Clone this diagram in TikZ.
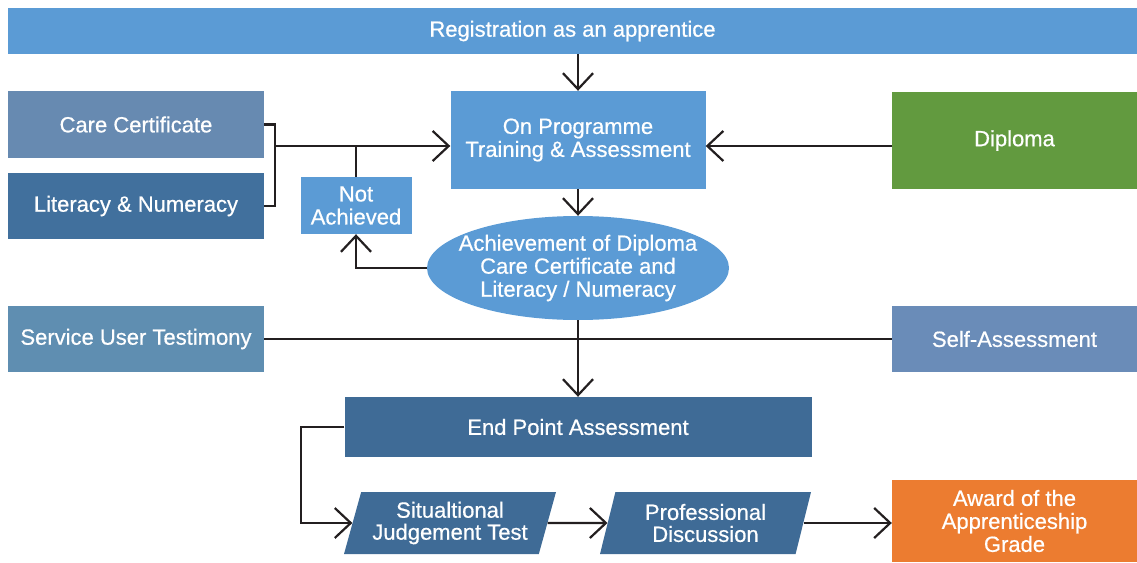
\documentclass[tikz,border=0pt]{standalone}
\usepackage{fontspec}
\setmainfont{Liberation Sans}
\newfontfamily\medfont{Liberation Sans}[FakeBold=0.6]
\usetikzlibrary{arrows.meta,shapes.geometric}
\definecolor{lblue}{HTML}{5B9BD5}
\definecolor{ccblue}{HTML}{678AB1}
\definecolor{litblue}{HTML}{41709D}
\definecolor{sutblue}{HTML}{5F8EB1}
\definecolor{sablue}{HTML}{6A8CB8}
\definecolor{dblue}{HTML}{3F6B96}
\definecolor{dgreen}{HTML}{629A3F}
\definecolor{orng}{HTML}{EC7C30}
\definecolor{linec}{HTML}{231F20}
\tikzset{
  box/.style={rectangle, inner sep=0pt, text=white, align=center, font=\medfont\fontsize{22}{23}\selectfont},
  para/.style={trapezium, trapezium left angle=68, trapezium right angle=112, trapezium stretches body,
    inner sep=0pt, text=white, align=center, font=\medfont\fontsize{22}{22}\selectfont, fill=dblue},
  conn/.style={draw=linec, line width=2.2pt},
  arr/.style={conn, -{Straight Barb[length=16pt,width=30pt,line width=2.2pt]}},
}
\begin{document}
\begin{tikzpicture}[x=1pt,y=-1pt]
\useasboundingbox (0,0) rectangle (1137,562);
\node[box, fill=lblue, minimum width=1129pt, minimum height=46pt] (reg) at (572.5,31) {Registration as an apprentice};
\node[box, fill=ccblue, minimum width=256pt, minimum height=67pt] (cc) at (136,124.5) {Care Certificate};
\node[box, fill=litblue, minimum width=256pt, minimum height=66pt] (lit) at (136,206) {Literacy \& Numeracy};
\node[box, fill=lblue, minimum width=255pt, minimum height=98pt] (op) at (578,140) {On Programme\\Training \& Assessment};
\node[box, fill=dgreen, minimum width=245pt, minimum height=97pt] (dip) at (1014.5,140.5) {Diploma};
\node[box, fill=lblue, minimum width=111pt, minimum height=57pt] (na) at (356,205.5) {Not\\Achieved};
\node[box, ellipse, fill=lblue, inner sep=-30pt, minimum width=302pt, minimum height=104pt] (ach) at (578,268) {Achievement of Diploma\\Care Certificate and\\Literacy / Numeracy};
\node[box, fill=sutblue, minimum width=256pt, minimum height=66pt] (sut) at (136,339) {Service User Testimony};
\node[box, fill=sablue, minimum width=245pt, minimum height=66pt] (sa) at (1014.5,339) {Self-Assessment};
\node[box, fill=dblue, minimum width=467pt, minimum height=60pt] (epa) at (578,427) {End Point Assessment};
\node[para, minimum width=212pt, minimum height=62pt] (sjt) at (450,523) {Situaltional\\Judgement Test};
\node[para, minimum width=211pt, minimum height=62pt] (pd) at (705.5,523) {Professional\\Discussion};
\node[box, fill=orng, minimum width=245pt, minimum height=82pt] (aw) at (1014.5,521) {Award of the\\Apprenticeship\\Grade};
\coordinate (j) at (275,146);
% connectors
\draw[arr] (reg.south -| op.north) -- (op.north);
\draw[conn] (cc.east) -- (cc.east -| j) -- (lit.east -| j) -- (lit.east);
\draw[arr] (j) -- (op.west |- j);
\draw[conn] (na.north) -- (na.north |- j);
\draw[arr] (dip.west |- j) -- (op.east |- j);
\draw[arr] (op.south) -- (ach.north);
\draw[arr] (ach.west) -| (na.south);
\draw[conn] (sut.east) -- (sa.west);
\draw[arr] (ach.south) -- (epa.north);
\draw[arr] (epa.west) -- ++(-43,0) |- (sjt.west);
\draw[arr] (sjt.east) -- (pd.west);
\draw[arr] (pd.east) -- (pd.east -| aw.west);
\end{tikzpicture}
\end{document}
